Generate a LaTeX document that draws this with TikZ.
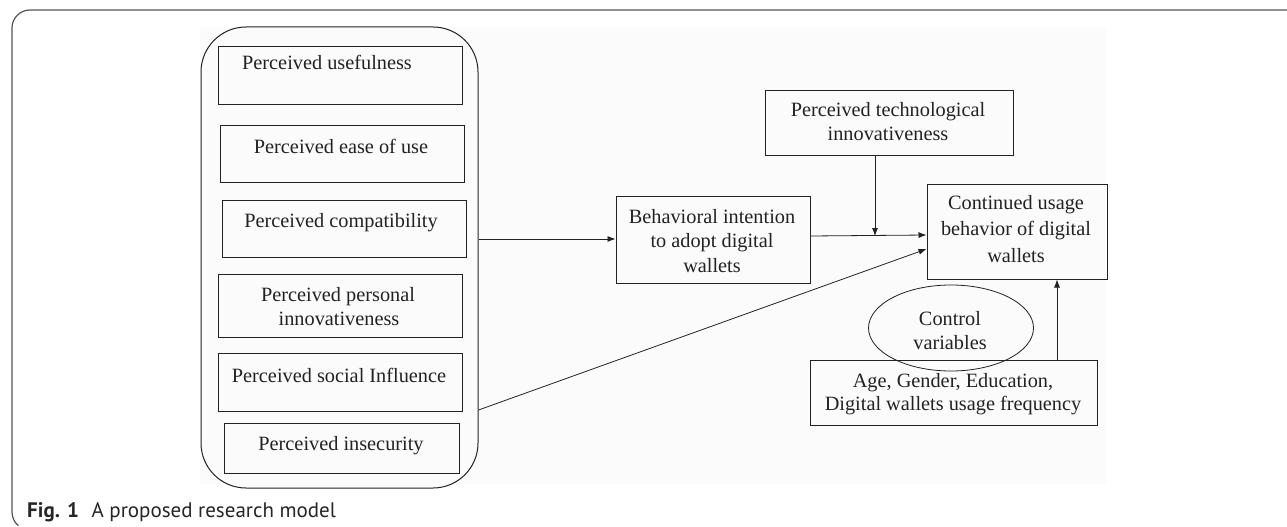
\documentclass[tikz,border=0pt]{standalone}
\usepackage{fontspec}
\setmainfont{Liberation Serif}
\newfontfamily\capfont{PT Sans}
\usetikzlibrary{arrows.meta,shapes.geometric,calc}
\definecolor{ink}{HTML}{222222}
\definecolor{frame}{HTML}{555555}
\tikzset{
  x=1pt,y=-1pt,
  box/.style={draw=ink,line width=1pt,inner sep=0pt},
  txt/.style={anchor=base,inner sep=0pt,text=ink,font=\fontsize{20.3}{24}\selectfont},
  conn/.style={draw=ink,line width=0.8pt,-{Latex[length=8pt,width=6pt]}},
  plain/.style={draw=ink,line width=0.8pt},
}
\begin{document}
\begin{tikzpicture}
\useasboundingbox (0,0) rectangle (1287,527);
\fill[white] (0,0) rectangle (1287,527);
% outer figure frame
\draw[frame,line width=1.2pt] (1287,10) -- (30,10) arc[start angle=270,end angle=180,radius=18] -- (12,512) arc[start angle=180,end angle=130,radius=18];
% faint figure background
\fill[black!1.5] (200,27) rectangle (1106,484);
% group container
\node[box,rounded corners=45pt,minimum width=277,minimum height=461,fill=black!1.5] (grp) at (339.5,257.5) {};
% factor boxes
\node[box,minimum width=244,minimum height=57] (pu) at (340,75.5) {};
\node[box,minimum width=244,minimum height=57] (peou) at (342,153.5) {};
\node[box,minimum width=244,minimum height=57] (pc) at (344,228.5) {};
\node[box,minimum width=244,minimum height=63] (ppi) at (340,305.5) {};
\node[box,minimum width=244,minimum height=58] (psi) at (340,382) {};
\node[box,minimum width=235,minimum height=50] (pin) at (341.5,448) {};
\node[txt] at (327,70) {Perceived usefulness};
\node[txt] at (341,153) {Perceived ease of use};
\node[txt] at (341,227) {Perceived compatibility};
\node[txt] at (338,301) {Perceived personal};
\node[txt] at (339,325) {innovativeness};
\node[txt] at (339,382) {Perceived social Influence};
\node[txt] at (341,450) {Perceived insecurity};
% behavioral intention
\node[box,minimum width=194,minimum height=87] (bi) at (713,239.5) {};
\node[txt] at (712,223) {Behavioral intention};
\node[txt] at (712,247.5) {to adopt digital};
\node[txt] at (712,272) {wallets};
% technological innovativeness
\node[box,minimum width=248,minimum height=65] (pti) at (889,122.5) {};
\node[txt] at (888,116) {Perceived technological};
\node[txt] at (888,140) {innovativeness};
% continued usage
\node[box,minimum width=180,minimum height=95] (cub) at (1017,231.5) {};
\node[txt] at (1016,209) {Continued usage};
\node[txt] at (1016,235.5) {behavior of digital};
\node[txt] at (1016,262) {wallets};
% control variables
\node[box,minimum width=287,minimum height=65] (cv) at (953.5,392.5) {};
\node[txt] at (953,387) {Age, Gender, Education,};
\node[txt] at (953,410.5) {Digital wallets usage frequency};
\node[draw=ink,line width=0.8pt,ellipse,inner sep=0pt,minimum width=165,minimum height=86] (ctl) at (951,328) {};
\node[txt] at (950,325) {Control};
\node[txt] at (950,349) {variables};
% connectors
\coordinate (gout) at (grp.east |- 0,239);
\draw[conn] (gout) -- (bi.west |- gout);
\coordinate (bout) at (bi.east |- 0,236);
\coordinate (cin1) at (cub.west |- 0,235);
\coordinate (mod) at (875,236);
\draw[conn] (bout) -- (cin1);
\draw[conn] (pti.south -| mod) -- (mod);
\coordinate (sout) at (grp.east |- 0,410);
\coordinate (cin2) at (cub.west |- 0,249);
\draw[conn] (sout) -- (cin2);
\coordinate (cvup) at (1057,0 |- cv.north);
\draw[conn] (cvup) -- (cvup |- cub.south);
% caption
\node[anchor=base west,inner sep=0pt,font=\capfont\fontsize{21}{24}\selectfont,text=black!85] (cap) at (27,517) {\textbf{Fig. 1}\hspace{0.6em}A proposed research model};
\end{tikzpicture}
\end{document}
